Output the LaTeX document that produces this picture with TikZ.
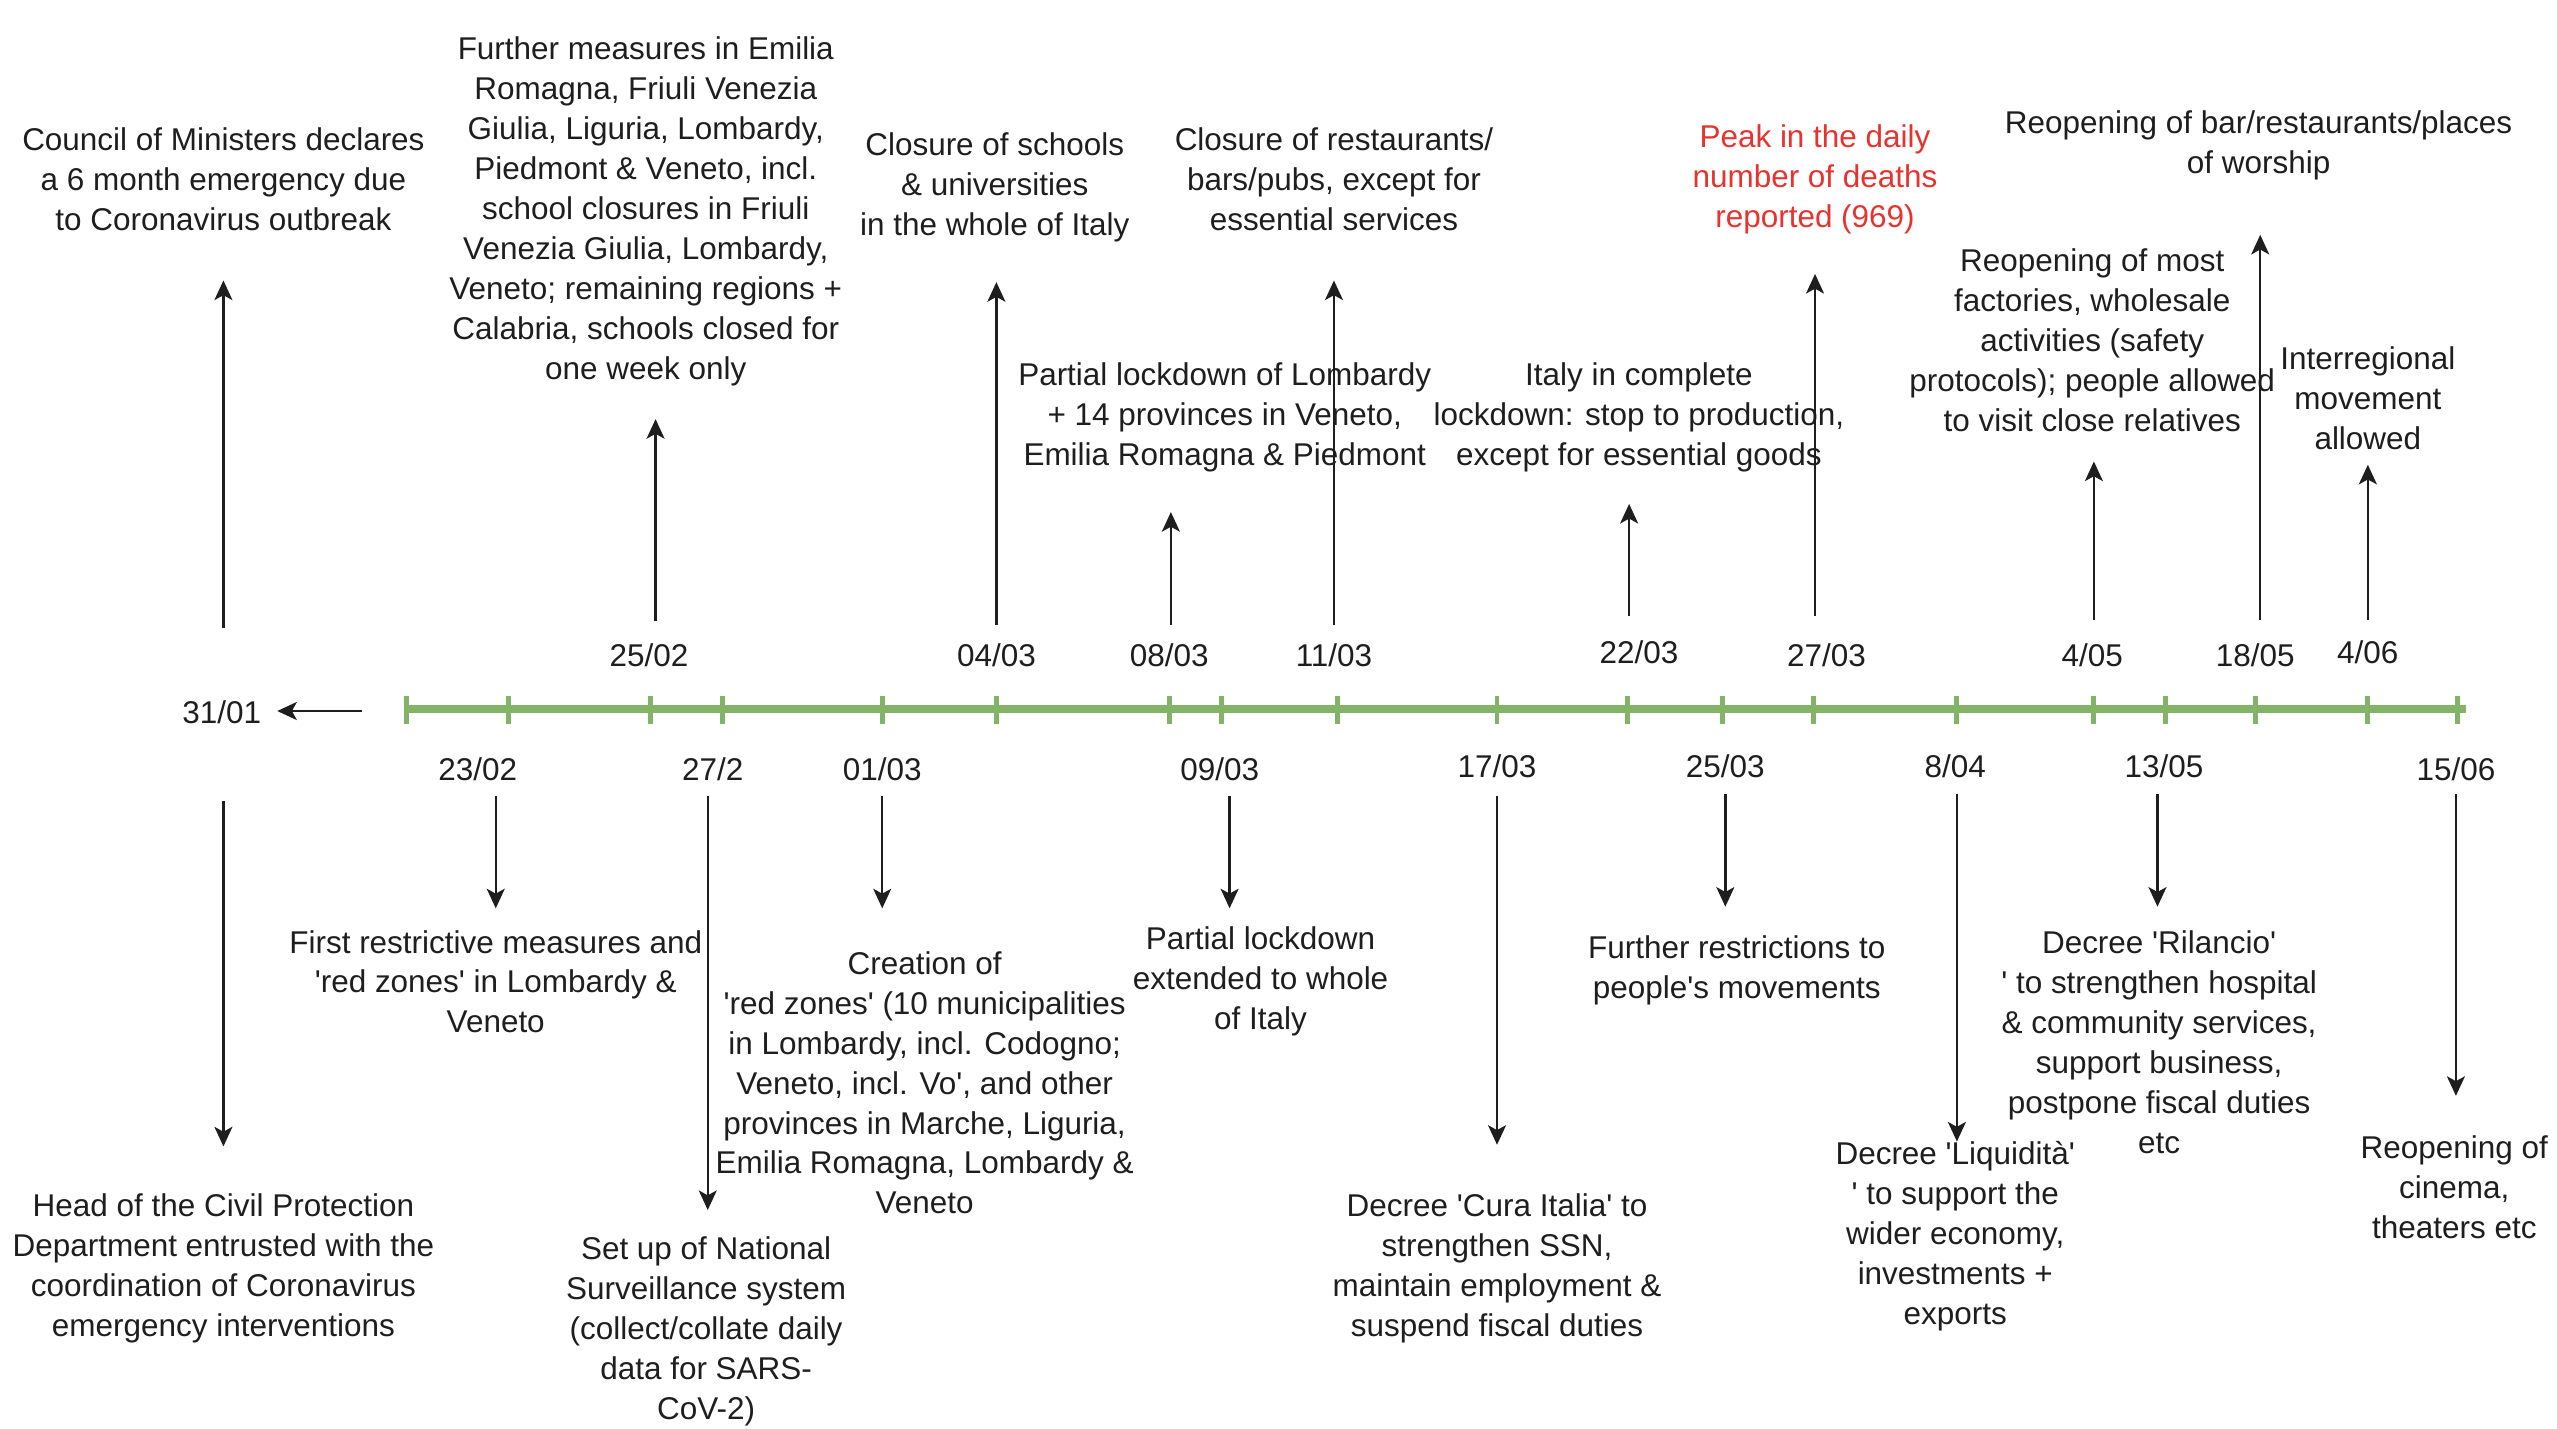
\documentclass[tikz,border=0pt]{standalone}
\usepackage{fontspec}
\setmainfont{Liberation Sans}
\usetikzlibrary{arrows.meta}
\definecolor{txt}{HTML}{1E1E1E}
\definecolor{tl}{HTML}{82B366}
\definecolor{peak}{HTML}{E8322E}
\newcommand{\q}{\textquotesingle}
\begin{document}
\begin{tikzpicture}[x=1pt,y=-1pt,
  lbl/.style={inner sep=0pt, align=center, text=txt, font=\fontsize{19.3}{24.5}\selectfont},
  arr/.style={line width=1.5pt, draw=txt, -{Stealth[length=12pt,width=11pt,inset=3pt]}},
  tickmark/.style={draw=tl, line width=3pt},
  axis/.style={draw=tl, line width=5pt}]
\useasboundingbox (0,0) rectangle (1568,876);

% timeline
\coordinate (tls) at (248,435);
\coordinate (tle) at (1512,435);
\draw[axis] (tls) -- (tle);
\foreach \x in {249,312,399,443,541,611,717,749,820,918,998,1056,1112,1200,1284,1328,1383,1452,1507}
  \draw[tickmark] (\x,427) -- (\x,444);

% start label and left arrow
\node[lbl] (d0101) at (136,437) {31/01};
\coordinate (la1) at (222,436);
\coordinate (la2) at (170,436);
\draw[arr] (la1) -- (la2);

% dates above
\node[lbl] (d2502) at (398,402) {25/02};
\node[lbl] (d0403) at (611,402) {04/03};
\node[lbl] (d0803) at (717,402) {08/03};
\node[lbl] (d1103) at (818,402) {11/03};
\node[lbl] (d2203) at (1005,400) {22/03};
\node[lbl] (d2703) at (1120,402) {27/03};
\node[lbl] (d0405) at (1283,402) {4/05};
\node[lbl] (d1805) at (1383,402) {18/05};
\node[lbl] (d0406) at (1452,400) {4/06};

% dates below
\node[lbl] (d2302) at (293,472) {23/02};
\node[lbl] (d2702) at (437,472) {27/2};
\node[lbl] (d0103) at (541,472) {01/03};
\node[lbl] (d0903) at (748,472) {09/03};
\node[lbl] (d1703) at (918,470) {17/03};
\node[lbl] (d2503) at (1058,470) {25/03};
\node[lbl] (d0804) at (1199,470) {8/04};
\node[lbl] (d1305) at (1327,470) {13/05};
\node[lbl] (d1506) at (1506,472) {15/06};

% upward arrows
\foreach \n/\x/\a/\b in {u1/137/385/172, u2/402/381/257, u3/611/383/173, u4/718/383/314,
  u5/818/383/172, u6/999/378/309, u7/1113/378/168, u8/1284/380/283, u9/1386/380/144, u10/1452/380/285}{
  \coordinate (\n s) at (\x,\a);
  \coordinate (\n e) at (\x,\b);
  \draw[arr] (\n s) -- (\n e);
}

% downward arrows
\foreach \n/\x/\a/\b in {w1/137/491/703, w2/304/488/557, w3/434/488/742, w4/541/488/557,
  w5/754/488/557, w6/918/488/702, w7/1058/487/556, w8/1200/487/700, w9/1323/487/556, w10/1506/487/672}{
  \coordinate (\n s) at (\x,\a);
  \coordinate (\n e) at (\x,\b);
  \draw[arr] (\n s) -- (\n e);
}

% texts above
\node[lbl] (t1) at (137,110) {Council of Ministers declares\\a 6 month emergency due\\to Coronavirus outbreak};
\node[lbl] (t2) at (396,129.5) {Further measures in Emilia\\Romagna, Friuli Venezia\\Giulia, Liguria, Lombardy,\\Piedmont \& Veneto, incl.\\school closures in Friuli\\Venezia Giulia, Lombardy,\\Veneto; remaining regions +\\Calabria, schools closed for\\one week only};
\node[lbl] (t3) at (610,115) {Closure of schools\\\& universities\\in the whole of Italy};
\node[lbl] (t4) at (751,256) {Partial lockdown of Lombardy\\+ 14 provinces in Veneto,\\Emilia Romagna \& Piedmont};
\node[lbl] (t5) at (818,110) {Closure of restaurants/\\bars/pubs, except for\\essential services};
\node[lbl] (t6) at (1005,256) {Italy in complete\\lockdown: stop to production,\\except for essential goods};
\node[lbl, text=peak] (t7) at (1113,110) {Peak in the daily\\number of deaths\\reported (969)};
\node[lbl] (t8) at (1283,208.5) {Reopening of most\\factories, wholesale\\activities (safety\\protocols); people allowed\\to visit close relatives};
\node[lbl] (t9) at (1385,89) {Reopening of bar/restaurants/places\\of worship};
\node[lbl] (t10) at (1452,244) {Interregional\\movement\\allowed};

% texts below
\node[lbl] (b1) at (137,778) {Head of the Civil Protection\\Department entrusted with the\\coordination of Coronavirus\\emergency interventions};
\node[lbl] (b2) at (304,602) {First restrictive measures and\\\q red zones\q{} in Lombardy \&\\Veneto};
\node[lbl] (b3) at (433,816.5) {Set up of National\\Surveillance system\\(collect/collate daily\\data for SARS-\\CoV-2)};
\node[lbl] (b4) at (567,664) {Creation of\\\q red zones\q{} (10 municipalities\\in Lombardy, incl. Codogno;\\Veneto, incl. Vo\q, and other\\provinces in Marche, Liguria,\\Emilia Romagna, Lombardy \&\\Veneto};
\node[lbl] (b5) at (773,602) {Partial lockdown\\extended to whole\\of Italy};
\node[lbl] (b6) at (918,778) {Decree \q Cura Italia\q{} to\\strengthen SSN,\\maintain employment \&\\suspend fiscal duties};
\node[lbl] (b7) at (1065,595) {Further restrictions to\\people\q s movements};
\node[lbl] (b8) at (1199,758) {Decree \q Liquidità\q\\\q{} to support the\\wider economy,\\investments +\\exports};
\node[lbl] (b9) at (1324,639) {Decree \q Rilancio\q\\\q{} to strengthen hospital\\\& community services,\\support business,\\postpone fiscal duties\\etc};
\node[lbl] (b10) at (1505,728) {Reopening of\\cinema,\\theaters etc};
\end{tikzpicture}
\end{document}
